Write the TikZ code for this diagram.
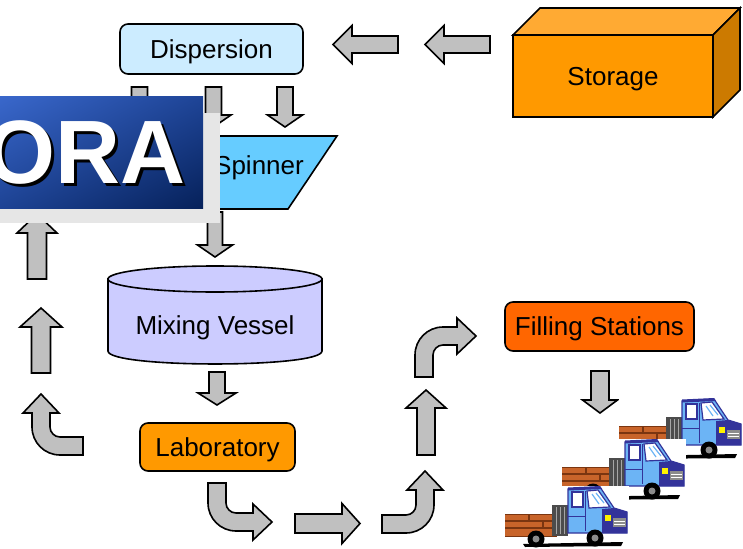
\documentclass[tikz,border=0pt]{standalone}
\usepackage{fontspec}
\setmainfont{Liberation Sans}
\usepackage{tikz}
\usetikzlibrary{positioning,shadings}

\definecolor{arrowgray}{HTML}{C0C0C0}
\definecolor{dispblue}{HTML}{CCECFF}
\definecolor{spinblue}{HTML}{66CCFF}
\definecolor{vessellilac}{HTML}{CCCCFF}
\definecolor{laborange}{HTML}{FF9900}
\definecolor{fillorange}{HTML}{FF6600}
\definecolor{boxtop}{HTML}{FFAA33}
\definecolor{boxside}{HTML}{CC7A00}
\definecolor{logolight}{HTML}{3A68CC}
\definecolor{logomid}{HTML}{1E4496}
\definecolor{logodark}{HTML}{06215A}
\definecolor{logoshadow}{HTML}{E6E6E6}
\definecolor{cabblue}{HTML}{6CB4F5}
\definecolor{cabdark}{HTML}{33339A}
\definecolor{bedbrown}{HTML}{C8642A}
\definecolor{bedline}{HTML}{7A3510}

% straight block arrow along +x: length, shaft width, head width, head length
\newcommand{\blockarrow}[5][]{%
  \draw[barrow,#1] (0,{-#3/2}) -- ({#2-#5},{-#3/2}) -- ({#2-#5},{-#4/2}) -- (#2,0)
    -- ({#2-#5},{#4/2}) -- ({#2-#5},{#3/2}) -- (0,{#3/2}) -- cycle;}

% bent block arrow (up, then right), origin at the centre of the bend
\newcommand{\bentarrow}[3][]{%
  \draw[barrow,#1] (-28,#2) -- (-28,0) .. controls (-28,-15.5) and (-15.5,-28) .. (0,-28)
    -- (#3,-28) -- (#3,-37) -- ({#3+19},-19) -- (#3,-1) -- (#3,-10) -- (0,-10)
    .. controls (-5.5,-10) and (-10,-5.5) .. (-10,0) -- (-10,#2) -- cycle;}

% little delivery truck, origin at the top left of its white patch
\newcommand{\truck}[1]{%
  \begin{scope}[shift={#1}]
    \fill[white] (0,0) rectangle (124,62);
    % flatbed
    \fill[bedbrown] (0,28) rectangle (52,51);
    \draw[bedline, line width=1.1] (0,28.5) -- (52,28.5) (0,35) -- (52,35) (0,42) -- (52,42) (0,50.5) -- (52,50.5)
      (24,28.5) -- (24,35) (38,35) -- (38,42);
    % rack behind the cab
    \fill[black!70] (47,19) rectangle (63,50);
    \draw[black!35, line width=0.8] (51,21) -- (51,48) (55,21) -- (55,48) (59,21) -- (59,48);
    % ground shadow and wheels
    \fill[black] (18,58) -- (118,56) -- (116,60) -- (20,61) -- cycle;
    \fill[black] (31,53) circle (8.5);
    \fill[black!45] (31,53) circle (3.5);
    % cab
    \filldraw[fill=cabblue, draw=cabdark, line width=1.2] (63,3) -- (95,1) -- (109,22) -- (122,26) -- (122,47) -- (63,47) -- cycle;
    \fill[cabdark] (63,1.5) -- (95,0) -- (97,3) -- (63,4.5) -- cycle;
    \fill[cabdark] (97,23) -- (109,22) -- (122,26) -- (122,47) -- (97,47) -- cycle;
    \fill[black!45] (108,32) rectangle (121,41);
    \draw[white, line width=0.6] (109,35) -- (120,35) (109,38) -- (120,38);
    \fill[yellow] (100,29) rectangle (106,35);
    \filldraw[fill=white, draw=cabdark, line width=1.2] (67,6) rectangle (78,21);
    \filldraw[fill=white, draw=cabdark, line width=1.2] (82,5) -- (93,4) -- (105,21) -- (84,22) -- cycle;
    \draw[cabblue, line width=1.2] (87,8) -- (94,18) (91,7) -- (99,17);
    \draw[cabdark, line width=0.8] (80,5) -- (80,45) (63,30) -- (80,30);
    \fill[black] (90,52) circle (8.5);
    \fill[black!45] (90,52) circle (3.5);
  \end{scope}}

\begin{document}
\begin{tikzpicture}[x=1pt,y=-1pt,
    box/.style={
      rectangle,
      rounded corners=8,
      inner sep=0pt,
      draw=black,line width=1.6,fill=#1
      },
    box/.default=white,
    barrow/.style={draw=black,line width=1.6,fill=arrowgray},
    every node/.append style={text depth=0pt},
    font=\fontsize{26}{30}\selectfont]

  \useasboundingbox (0,0) rectangle (743,548);
  \clip (0,0) rectangle (743,548);

  % storage block
  \filldraw[line width=1.6, fill=boxtop] (513,35) -- (540,8) -- (740,8) -- (713,35) -- cycle;
  \filldraw[line width=1.6, fill=boxside] (713,35) -- (740,8) -- (740,90) -- (713,117) -- cycle;
  \node (storage) [rectangle, draw, line width=1.6, fill=laborange, minimum width=200, minimum height=82, inner sep=0pt] at (613,76) {Storage};

  % process steps
  \node (disp) [box=dispblue,   minimum width=183, minimum height=50] at (211.5,49)  {Dispersion};
  \node (lab)  [box=laborange,  minimum width=155, minimum height=48] at (217.5,447) {Laboratory};
  \node (fill) [box=fillorange, minimum width=189, minimum height=49] at (599.5,326.5) {Filling Stations};

  \filldraw[line width=1.6, fill=spinblue] (190,136) -- (337,136) -- (288,209) -- (141,209) -- cycle;
  \node (spin) at (259,165) {Spinner};

  % mixing vessel
  \filldraw[line width=1.6, fill=vessellilac] (108,279) -- (108,351) .. controls (108,368.3) and (322,368.3) .. (322,351) -- (322,279) -- cycle;
  \filldraw[line width=1.6, fill=vessellilac] (215,279) ellipse [x radius=107, y radius=13];
  \node (vessel) at (215,325) {Mixing Vessel};

  % flow arrows
  \blockarrow[shift={(398,44.5)},rotate=180]{65}{17}{38}{19}
  \blockarrow[shift={(490,44.5)},rotate=180]{65}{17}{38}{19}
  \foreach \xx in {139.5,213.5,285}{
    \blockarrow[shift={(\xx,87)},rotate=-90]{40}{16}{35}{12}
  }
  \blockarrow[shift={(215,212)},rotate=-90]{45}{15}{35}{12}
  \blockarrow[shift={(217,372)},rotate=-90]{33}{16}{38}{12}
  \blockarrow[shift={(600,371)},rotate=-90]{42}{18}{35}{13}
  \blockarrow[shift={(295,523.5)}]{65}{19}{40}{18}
  \blockarrow[shift={(426,455)},rotate=90]{65}{18}{40}{18}
  \blockarrow[shift={(41,373)},rotate=90]{65}{19}{42}{19}
  \blockarrow[shift={(37,279)},rotate=90]{65}{19}{40}{19}

  \bentarrow[shift={(236,503)},yscale=-1]{20}{17}
  \bentarrow[shift={(406,505)},xscale=-1,rotate=90]{24}{15}
  \bentarrow[shift={(443,355)}]{22}{14}
  \bentarrow[shift={(60,427)},rotate=90]{23}{14}

  % logo
  \fill[logoshadow] (-5,113) rectangle (220,223);
  \shade[upper left=logolight, upper right=logomid, lower left=logomid, lower right=logodark] (-5,97) rectangle (203,208);
  \node (logoshadowtext) [anchor=base east, inner sep=0pt, text=black, font=\fontsize{90}{90}\selectfont\bfseries] at (189,186) {ORA};
  \node (logotext) [anchor=base east, inner sep=0pt, text=white, font=\fontsize{90}{90}\selectfont\bfseries] at (186,183) {ORA};

  % trucks, back to front
  \truck{(619,398)}
  \truck{(562,439)}
  \truck{(505,486)}

\end{tikzpicture}
\end{document}
